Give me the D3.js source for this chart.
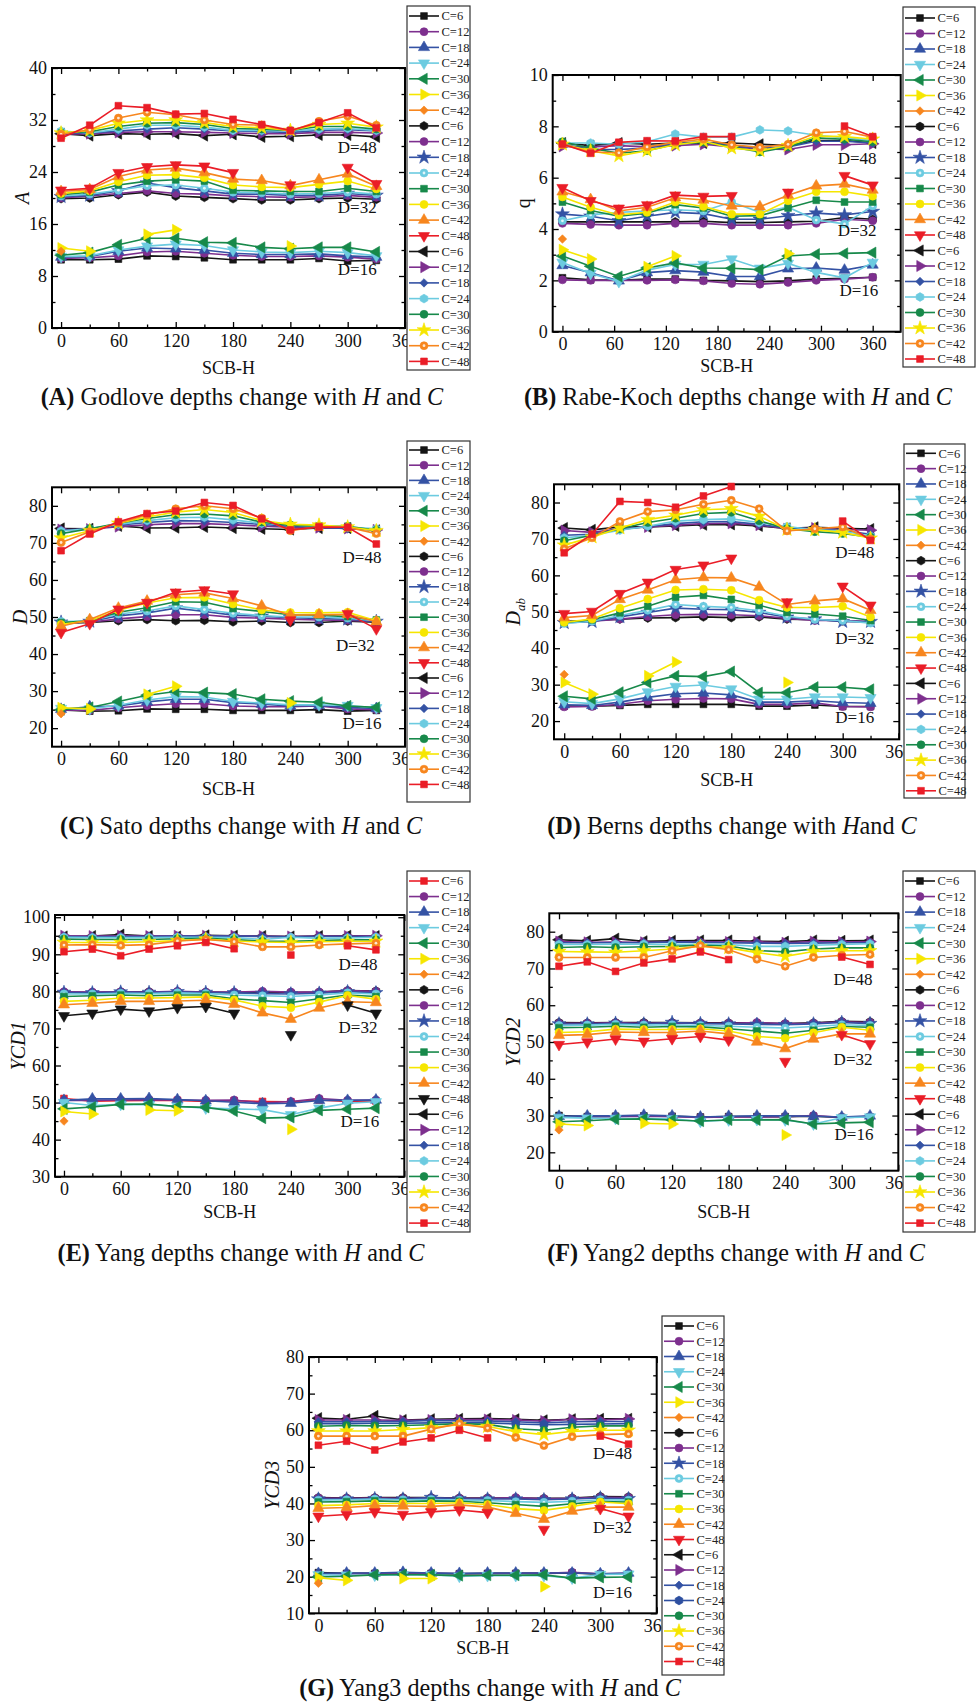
<!DOCTYPE html>
<html><head><meta charset="utf-8">
<script src="https://cdn.jsdelivr.net/npm/d3@7"></script>
<style>
body{margin:0;background:#fff}
svg{display:block}
text{font-family:"Liberation Serif","Times New Roman",serif}
</style>
</head><body>
<svg id="c" width="977" height="1705"></svg>
<script>
const _ = null;
// SCB-H values (x)
const H = [0,30,60,90,120,150,180,210,240,270,300,330];
const H_B = [0,32.7,65.5,98.2,130.9,163.6,196.4,229.1,261.8,294.5,327.3,360];
// C values per depth group
const C_D16 = [6,12,18,24,30,36,42];
const C_D32 = [6,12,18,24,30,36,42,48];
const C_D48 = [6,12,18,24,30,36,42,48];
const xTicks = [0,60,120,180,240,300,360];
const xTicksB = [0,60,120,180,240,300,360];

// (A) Godlove
const godlove16 = [
 [10.5,10.5,10.6,11.1,11.0,10.8,10.5,10.5,10.5,10.7,10.3,10.4],
 [10.7,10.8,11.1,11.7,11.8,11.5,11.2,11.0,11.0,11.1,10.9,10.6],
 [10.9,11.0,11.8,12.3,12.2,12.0,11.5,11.3,11.3,11.4,11.1,10.9],
 [11.0,11.1,12.0,12.6,12.9,12.7,12.0,11.7,11.6,11.8,11.6,11.1],
 [11.2,11.6,12.8,13.8,13.8,13.2,13.1,12.4,12.2,12.4,12.4,11.7],
 [12.3,11.8,_,14.4,15.1,_,_,_,12.6,_,_,_],
 [11.8,_,_,_,_,_,_,_,_,_,_,_]];
const godlove32 = [
 [19.9,20.0,20.5,20.9,20.3,20.1,19.9,19.7,19.7,19.9,20.0,19.8],
 [20.0,20.3,20.7,21.1,20.7,20.6,20.3,20.2,20.1,20.2,20.4,20.1],
 [20.2,20.4,21.1,22.3,21.6,21.1,20.6,20.6,20.4,20.4,20.7,20.4],
 [20.3,20.6,21.2,21.9,22.0,21.5,20.9,20.8,20.6,20.7,20.9,20.6],
 [20.5,20.9,22.0,22.6,22.8,22.6,21.2,21.1,21.0,21.0,21.5,21.0],
 [20.7,21.1,22.5,23.5,23.6,23.1,22.0,21.7,21.6,22.1,22.6,21.4],
 [21.0,21.3,23.3,24.3,24.6,23.9,22.9,22.7,21.9,22.8,23.7,21.8],
 [21.2,21.5,23.9,24.8,25.1,24.9,23.9,_,22.0,_,24.7,22.2]];
const godlove48 = [
 [29.9,29.6,29.9,29.8,29.9,29.6,29.8,29.4,29.5,29.7,29.7,29.4],
 [29.8,29.9,30.1,30.2,30.2,30.1,30.0,29.9,29.9,30.1,30.1,30.0],
 [30.0,30.0,30.3,30.6,30.8,30.6,30.3,30.2,30.1,30.4,30.5,30.3],
 [30.3,30.0,30.6,31.2,31.2,30.9,30.4,30.4,30.3,30.6,30.7,30.4],
 [30.0,30.2,31.0,31.5,31.6,31.3,30.7,30.6,30.4,31.0,31.0,30.6],
 [30.0,30.4,31.5,32.0,32.0,31.6,31.0,30.8,30.4,31.3,31.5,30.9],
 [29.8,30.5,32.3,33.2,32.8,32.0,31.3,31.2,30.3,31.8,32.6,31.2],
 [29.2,31.2,34.2,33.9,32.9,33.0,32.1,31.3,30.4,31.6,33.1,30.8]];

// (B) Rabe-Koch
const rabe16 = [
 [2.10,2.02,2.00,2.05,2.05,2.00,1.98,1.95,1.98,2.05,2.08,2.12],
 [2.02,2.00,2.00,2.00,2.02,1.98,1.88,1.85,1.92,2.00,2.05,2.12],
 [2.58,2.30,1.98,2.30,2.38,2.32,2.15,2.15,2.45,2.48,2.40,2.60],
 [2.70,2.27,1.95,2.40,2.62,2.62,2.83,2.47,2.66,2.31,2.10,2.70],
 [2.95,2.55,2.15,2.48,2.68,2.48,2.47,2.42,2.95,3.02,3.05,3.08],
 [3.19,2.83,_,2.53,2.95,_,_,_,3.04,_,_,_],
 [3.61,_,_,_,_,_,_,_,_,_,_,_]];
const rabe32 = [
 [4.28,4.28,4.28,4.28,4.28,4.30,4.25,4.25,4.28,4.30,4.45,4.38],
 [4.22,4.18,4.15,4.15,4.22,4.22,4.15,4.15,4.15,4.22,4.38,4.32],
 [4.58,4.50,4.32,4.50,4.65,4.60,4.38,4.38,4.52,4.62,4.55,4.68],
 [4.32,4.55,4.65,4.70,4.75,4.70,5.05,4.65,4.85,4.35,4.20,4.90],
 [5.05,4.72,4.50,4.62,4.95,4.82,4.50,4.52,4.82,5.12,5.05,5.05],
 [5.25,4.85,4.55,4.65,5.05,4.88,4.58,4.58,5.10,5.45,5.45,5.28],
 [5.45,5.15,4.70,4.85,5.22,5.13,4.90,4.87,5.32,5.68,5.75,5.52],
 [5.61,5.10,4.81,4.94,5.32,5.27,5.30,_,5.43,_,6.08,5.71]];
const rabe48 = [
 [7.35,7.25,7.35,7.30,7.35,7.35,7.35,7.30,7.25,7.45,7.45,7.35],
 [7.22,7.20,7.25,7.20,7.25,7.30,7.20,7.12,7.10,7.28,7.28,7.32],
 [7.30,7.10,7.10,7.15,7.35,7.40,7.25,7.15,7.20,7.42,7.42,7.35],
 [7.35,7.35,7.30,7.40,7.70,7.58,7.58,7.86,7.82,7.65,7.55,7.45],
 [7.40,7.15,6.95,7.05,7.30,7.38,7.20,7.00,7.20,7.55,7.50,7.40],
 [7.30,7.05,6.85,7.05,7.28,7.42,7.15,7.05,7.25,7.62,7.60,7.50],
 [7.28,7.00,6.97,7.20,7.38,7.50,7.28,7.18,7.30,7.75,7.80,7.58],
 [7.31,6.95,7.38,7.44,7.43,7.60,7.60,_,_,_,8.01,7.60]];

// (C) Sato
const sato16 = [
 [24.9,24.6,24.7,25.2,25.1,25.1,24.8,24.8,24.8,25.0,24.6,24.8],
 [24.9,24.8,25.5,26.1,26.6,26.6,26.0,25.8,25.8,26.0,25.2,25.0],
 [25.1,25.8,26.0,27.1,27.8,27.8,26.9,26.5,26.0,26.1,25.6,25.3],
 [25.3,25.2,26.2,27.6,28.5,28.4,27.2,26.8,26.3,26.3,26.1,25.5],
 [25.0,25.6,27.2,28.9,29.9,29.6,29.2,27.8,27.3,27.0,26.0,25.6],
 [25.5,25.2,_,29.1,31.3,_,_,_,26.8,_,_,_],
 [23.9,_,_,_,_,_,_,_,_,_,_,_]];
const sato32 = [
 [48.3,48.5,49.0,49.3,49.0,49.1,48.7,48.9,48.5,48.5,48.9,48.6],
 [48.4,48.6,49.5,50.1,50.6,50.6,49.9,49.7,49.4,49.2,49.1,48.8],
 [48.6,48.8,50.3,51.1,52.4,51.5,50.5,50.2,49.8,49.6,49.4,48.8],
 [48.8,48.9,50.8,51.6,53.0,52.0,51.0,50.4,50.0,50.0,49.7,49.0],
 [48.5,49.0,51.3,52.5,54.1,54.0,52.3,51.5,50.6,50.5,50.1,49.2],
 [48.0,49.0,51.8,53.8,55.2,55.3,53.5,51.9,51.2,51.1,51.3,49.0],
 [47.5,49.3,52.4,54.3,56.0,56.5,55.0,53.0,50.5,50.6,50.7,48.7],
 [45.8,48.2,52.1,53.9,56.7,57.3,56.2,_,49.2,_,50.9,46.8]];
const sato48 = [
 [73.9,73.8,74.6,74.0,74.1,74.3,74.0,73.8,73.6,74.0,74.0,73.4],
 [73.6,73.7,74.4,74.9,75.2,75.2,74.9,74.5,74.2,74.1,73.9,73.5],
 [73.4,73.8,74.8,75.5,76.0,75.9,75.5,75.0,74.5,74.3,73.8,73.6],
 [73.2,73.9,75.0,76.0,76.8,76.9,76.2,75.3,74.9,74.4,74.3,73.8],
 [72.5,73.8,75.3,76.6,77.6,77.8,77.3,75.6,74.8,74.5,74.5,73.4],
 [71.3,73.3,75.3,77.0,78.3,79.0,78.2,76.0,75.0,74.8,74.3,73.3],
 [70.1,73.0,75.4,77.5,79.2,80.0,79.2,76.7,73.3,74.4,74.2,72.5],
 [67.9,72.4,75.7,77.9,78.6,80.9,80.1,76.5,73.5,74.3,74.2,69.7]];

// (D) Berns
const berns16 = [
 [24.1,24.1,24.3,24.6,24.6,24.6,24.6,24.1,24.1,24.4,24.0,24.0],
 [23.9,24.0,24.6,25.6,26.0,26.2,26.1,24.6,24.6,25.0,24.0,23.9],
 [24.5,24.3,25.2,26.5,27.5,27.7,27.2,25.2,25.2,25.6,25.1,24.9],
 [25.3,24.8,26.1,28.0,29.5,29.9,28.8,26.0,26.0,26.6,26.6,26.4],
 [26.8,26.1,27.9,30.6,32.4,32.2,33.6,27.8,27.8,29.3,29.3,28.7],
 [30.6,27.4,_,32.4,36.2,_,_,_,30.6,_,_,_],
 [32.8,_,_,_,_,_,_,_,_,_,_,_]];
const berns32 = [
 [47.4,47.6,48.0,48.3,48.4,48.6,48.4,48.6,48.0,47.8,47.5,47.2],
 [47.3,47.4,48.0,48.7,49.2,49.3,49.2,48.9,48.2,47.6,47.6,47.3],
 [47.0,47.3,48.6,49.8,51.0,50.7,50.6,49.8,48.5,48.0,47.3,47.3],
 [46.8,47.4,49.0,50.4,52.0,51.5,51.2,50.3,48.8,47.9,47.6,46.9],
 [47.1,47.8,49.7,51.5,54.0,54.5,53.4,51.8,49.8,49.4,48.8,47.6],
 [47.1,48.0,51.0,53.5,56.0,56.2,55.9,53.2,51.2,51.2,51.5,48.6],
 [48.4,49.0,53.4,56.0,58.8,59.4,59.3,56.8,52.0,53.0,53.6,50.4],
 [49.5,50.1,55.0,58.1,61.6,62.8,64.7,_,52.7,_,57.0,51.8]];
const berns48 = [
 [73.0,72.5,73.3,73.3,73.6,73.9,74.0,73.6,72.9,73.2,72.9,72.7],
 [72.3,71.8,72.8,73.3,73.8,74.2,74.3,73.8,72.8,73.0,72.6,72.4],
 [71.0,71.3,72.6,73.4,74.2,74.7,74.8,74.0,73.0,72.8,72.3,71.3],
 [70.3,71.0,72.4,73.5,74.9,75.3,75.5,74.5,73.4,72.5,72.2,70.8],
 [69.5,71.0,72.8,74.5,75.7,77.0,77.3,75.0,72.8,72.0,71.5,70.5],
 [68.3,70.5,73.0,75.3,76.5,78.0,78.3,76.2,72.6,72.5,71.8,70.2],
 [67.3,70.3,74.8,77.5,78.0,79.5,80.6,78.3,72.2,72.8,73.3,70.0],
 [66.2,71.3,80.3,80.0,78.7,81.8,84.4,_,_,_,74.9,69.6]];

// (E) Yang
const yang16 = [
 [51.1,50.4,50.5,50.6,50.6,50.3,50.5,50.3,50.2,50.7,50.3,50.4],
 [50.6,50.6,50.7,50.8,50.7,50.6,50.7,49.9,50.3,51.1,50.6,50.7],
 [50.6,51.0,51.0,51.1,50.8,50.5,50.1,49.7,49.8,50.6,50.6,50.7],
 [50.0,49.2,49.5,49.4,49.0,48.5,48.3,48.1,46.7,48.5,49.8,50.2],
 [48.3,48.8,49.5,49.6,48.9,48.7,47.7,45.8,46.0,47.9,48.2,48.5],
 [47.6,46.9,_,48.0,47.8,_,_,_,42.8,_,_,_],
 [45.0,_,_,_,_,_,_,_,_,_,_,_]];
const yang32 = [
 [79.8,79.7,79.9,79.9,79.9,79.8,79.7,79.8,79.7,79.8,80.2,80.1],
 [79.9,79.8,79.9,79.8,80.0,79.8,79.8,80.0,79.8,79.8,80.2,80.0],
 [79.7,79.6,79.8,79.7,79.9,79.7,79.6,79.4,79.3,79.5,79.9,79.6],
 [79.3,79.3,79.5,79.4,79.6,79.4,79.0,78.8,78.6,79.0,79.6,79.3],
 [78.6,78.8,79.0,78.8,79.0,79.0,78.0,77.5,77.0,78.0,79.0,78.6],
 [77.3,77.6,78.2,78.2,78.3,78.5,77.7,76.0,75.6,77.1,78.9,77.9],
 [76.4,76.8,77.3,77.3,77.4,77.6,76.5,74.2,72.5,75.5,77.2,77.0],
 [73.4,74.1,75.2,74.7,75.6,75.9,74.1,_,68.3,_,76.3,74.1]];
const yang48 = [
 [94.8,94.9,95.3,94.9,94.8,95.1,95.0,94.9,94.8,94.9,95.0,94.9],
 [95.0,94.9,95.0,94.9,95.0,95.0,95.0,94.9,94.8,94.9,94.9,95.0],
 [94.8,94.7,94.8,94.8,94.9,94.9,94.9,94.8,94.7,94.8,94.8,94.8],
 [94.6,94.5,94.5,94.5,94.6,94.6,94.5,94.0,94.6,94.3,94.4,94.6],
 [94.1,94.0,94.0,94.0,94.2,94.3,94.0,93.5,93.5,93.7,93.9,93.9],
 [93.2,93.2,93.2,93.4,93.7,94.1,93.6,93.3,93.2,93.4,93.5,93.5],
 [92.5,92.6,92.4,92.6,93.6,94.0,93.4,92.0,92.0,92.5,92.8,93.0],
 [90.7,91.4,89.6,91.4,92.3,93.2,91.5,_,89.8,_,92.3,91.2]];

// (F) Yang2
const yang2_16 = [
 [30.0,29.7,29.8,29.9,29.8,29.6,29.7,29.7,29.7,29.8,29.5,29.6],
 [29.6,29.6,29.7,29.8,29.7,29.5,29.6,29.6,29.7,30.0,29.5,29.7],
 [29.8,29.9,29.9,30.1,29.9,29.6,29.8,29.9,29.9,29.8,29.6,29.9],
 [29.5,29.3,29.2,29.2,29.1,28.4,28.8,28.9,28.8,27.7,29.4,29.6],
 [28.3,28.6,29.0,29.1,28.8,28.5,28.8,28.8,28.9,27.7,28.0,28.2],
 [27.7,27.3,_,27.9,27.7,_,_,_,24.7,_,_,_],
 [26.1,_,_,_,_,_,_,_,_,_,_,_]];
const yang2_32 = [
 [55.3,55.2,55.3,55.3,55.3,55.2,55.2,55.2,55.0,55.2,55.6,55.5],
 [55.1,55.1,55.2,55.1,55.2,55.1,55.1,55.3,55.0,55.1,55.5,55.3],
 [54.9,54.9,55.1,54.9,55.3,55.0,54.9,54.8,54.7,54.9,55.3,55.0],
 [54.5,54.6,54.8,54.6,54.7,54.5,54.3,54.0,53.8,54.2,54.7,54.5],
 [53.9,54.0,54.3,54.0,54.2,54.1,53.6,53.0,52.4,53.2,54.2,54.0],
 [52.6,52.8,53.5,53.4,53.4,53.6,53.0,51.5,51.0,52.5,54.0,53.2],
 [51.8,52.0,52.7,52.6,52.6,53.0,52.2,50.0,48.2,50.8,52.2,52.2],
 [49.3,50.0,50.8,50.2,50.9,51.5,50.5,_,44.7,_,52.0,49.5]];
const yang2_48 = [
 [77.8,77.5,78.1,77.4,77.5,77.6,77.6,77.4,77.3,77.6,77.5,77.6],
 [77.3,77.1,77.2,77.1,77.2,77.3,77.2,77.2,77.0,77.3,77.2,77.3],
 [77.0,77.0,77.0,77.0,77.2,77.1,77.0,76.9,76.8,76.9,77.0,77.0],
 [76.5,76.5,76.6,76.6,76.6,76.6,76.5,76.0,76.0,76.3,76.5,76.7],
 [75.7,75.9,75.7,75.9,76.0,76.3,76.1,74.9,74.5,75.3,75.6,75.6],
 [74.6,74.5,74.4,74.8,75.3,76.0,75.6,74.3,73.3,74.6,74.8,74.8],
 [73.0,73.0,73.0,73.0,74.8,76.2,75.1,72.5,70.6,73.0,73.6,73.8],
 [70.6,71.8,69.2,71.5,72.6,74.5,72.4,_,_,_,73.1,71.1]];

// (G) Yang3
const yang3_16 = [
 [21.1,20.9,20.9,21.0,20.9,20.8,20.9,20.9,20.9,21.0,20.7,20.8],
 [20.8,20.8,20.9,21.0,20.9,20.8,20.8,20.9,20.9,21.2,20.8,20.9],
 [20.9,21.0,21.0,21.2,21.0,20.9,21.0,21.0,21.0,21.0,20.8,21.0],
 [20.5,20.4,20.4,20.5,20.5,20.1,20.3,20.3,20.3,19.6,20.6,20.7],
 [19.9,20.1,20.5,20.6,20.5,20.3,20.4,20.4,20.5,19.6,19.8,19.9],
 [19.7,19.0,_,19.5,19.5,_,_,_,17.3,_,_,_],
 [18.2,_,_,_,_,_,_,_,_,_,_,_]];
const yang3_32 = [
 [41.6,41.5,41.6,41.6,41.6,41.5,41.5,41.5,41.4,41.5,41.9,41.8],
 [41.5,41.4,41.5,41.4,41.5,41.4,41.4,41.6,41.3,41.4,41.7,41.6],
 [41.2,41.2,41.3,41.2,41.6,41.3,41.2,41.2,41.0,41.2,41.5,41.3],
 [40.9,41.0,41.2,41.0,41.1,40.9,40.8,40.5,40.3,40.6,41.0,40.9],
 [40.4,40.5,40.7,40.5,40.7,40.6,40.2,39.7,39.2,39.9,40.5,40.4],
 [39.4,39.6,40.0,40.0,40.0,40.2,39.7,38.6,38.1,39.2,40.4,39.9],
 [38.7,38.9,39.4,39.3,39.2,39.6,39.0,37.3,35.7,37.9,39.0,39.0],
 [36.5,37.0,37.7,37.0,37.7,38.2,37.5,_,32.9,_,38.6,36.5]];
const yang3_48 = [
 [63.3,63.0,63.9,62.8,63.0,63.1,63.2,63.0,62.7,63.0,63.1,63.1],
 [62.8,62.8,62.8,62.7,62.8,62.9,62.9,62.8,62.5,63.0,62.8,63.1],
 [62.3,62.3,62.4,62.4,62.7,62.6,62.5,62.3,62.0,62.3,62.4,62.4],
 [61.8,61.8,61.9,61.9,62.0,62.1,62.0,61.7,61.5,61.6,61.7,61.8],
 [61.1,61.3,61.2,61.3,61.5,61.8,61.6,60.4,60.0,60.8,61.2,61.2],
 [59.8,59.8,59.8,60.2,60.7,61.5,61.0,59.6,58.8,59.7,60.0,60.0],
 [58.4,58.4,58.4,58.4,60.3,61.8,60.6,58.0,55.8,58.2,58.8,59.0],
 [55.9,57.0,54.6,56.8,57.9,60.0,57.9,_,_,_,58.4,56.2]];

// ---------- styles ----------
const K='#151515', P='#7d2f8e', BL='#3452a4', CY='#6ccbe0', GR='#17894a', YE='#f6e600', OR='#f7861e', RD='#ea1d27', DB='#2d4fa0';
const g1Style = [['square',K],['circle',P],['triUp',BL],['triDown',CY],['triLeft',GR],['triRight',YE],['diamond',OR]];
const g2Style = [['hexagon',K],['circle',P],['star',BL],['circleDot',CY],['square',GR],['circle',YE],['triUp',OR],['triDown',RD]];
const g3Style = [['triLeft',K],['triRight',P],['diamond',BL],['hexagon',CY],['circle',GR],['star',YE],['circleDot',OR],['square',RD]];
function mod(st, idx, col){ const s = st.map(d=>d.slice()); s[idx][1]=col; return s; }

const panels = [
 {box:[52,68,405,328], xd:[-9.5,360], yd:[0,40], yt:d3.range(0,41,8), ym:d3.range(4,40,8), xv:H, xt:xTicks,
  data:[godlove16,godlove32,godlove48], st:[g1Style,g2Style,g3Style], ytitle:'A', ytx:22, xty:368,
  dlab:[[310,27.8,'D=48'],[310,18.6,'D=32'],[310,9.1,'D=16']],
  leg:{x:407,top:6,w:63,y0:16,dy:15.7,bot:370}, cap:['(A)',' Godlove depths change with ','H',' and ','C'], capxy:[242,405]},
 {box:[552.7,75,900.7,331.7], xd:[-11.3,392.5], yd:[0,10], yt:d3.range(0,11,2), ym:d3.range(1,10,2), xv:H_B, xt:xTicksB,
  data:[rabe16,rabe32,rabe48], st:[g1Style,g2Style,g3Style], ytitle:'q', yup:true, ytx:523, xty:366,
  dlab:[[342,6.77,'D=48'],[342,3.96,'D=32'],[344,1.62,'D=16']],
  leg:{x:903,top:7,w:72,y0:18,dy:15.5,bot:367}, cap:['(B)',' Rabe-Koch depths change with ','H',' and ','C'], capxy:[738,405]},
 {box:[52,487.3,405,746.7], xd:[-9.5,360], yd:[15,85], yt:d3.range(20,81,10), ym:d3.range(25,85,10), xv:H, xt:xTicks,
  data:[sato16,sato32,sato48], st:[g1Style,g2Style,g3Style], ytitle:'D', ytx:20, xty:789,
  dlab:[[315,66.2,'D=48'],[308,42.3,'D=32'],[315,21.5,'D=16']],
  leg:{x:407,top:441,w:63,y0:450,dy:15.2,bot:802}, cap:['(C)',' Sato depths change with ','H',' and ','C'], capxy:[241,834]},
 {box:[554,484.3,899.3,739.3], xd:[-11,361], yd:[15,85], yt:d3.range(20,81,10), ym:d3.range(25,85,10), xv:H, xt:xTicks,
  data:[berns16,berns32,berns48], st:[g1Style,g2Style,g3Style], ytitle:'D', ysub:'ab', ytx:513, xty:780,
  dlab:[[313,66.3,'D=48'],[313,42.9,'D=32'],[313,21.1,'D=16']],
  leg:{x:904,top:444,w:61,y0:453.3,dy:15.34,bot:798}, cap:['(D)',' Berns depths change with ','H','and ','C'], capxy:[732,834]},
 {box:[55,915,404.3,1176.7], xd:[-9.5,360], yd:[30,100.6], yt:d3.range(30,101,10), ym:d3.range(35,100,10), xv:H, xt:xTicks,
  data:[yang16,yang32,yang48], st:[mod(g1Style,0,RD),mod(g2Style,7,K),g3Style], ytitle:'YCD1', ytx:18, xty:1212,
  dlab:[[311,87.4,'D=48'],[311,70.4,'D=32'],[313,45.0,'D=16']],
  leg:{x:407,top:871,w:63,y0:881,dy:15.55,bot:1232}, cap:['(E)',' Yang depths change with ','H',' and ','C'], capxy:[241,1261]},
 {box:[549.3,913.3,898.3,1170.7], xd:[-10.3,360], yd:[15,85], yt:d3.range(20,81,10), ym:d3.range(25,85,10), xv:H, xt:xTicks,
  data:[yang2_16,yang2_32,yang2_48], st:[g1Style,g2Style,g3Style], ytitle:'YCD2', ytx:513, xty:1212,
  dlab:[[312,67.0,'D=48'],[312,45.4,'D=32'],[313,25.0,'D=16']],
  leg:{x:903,top:871,w:72,y0:881,dy:15.55,bot:1232}, cap:['(F)',' Yang2 depths change with ','H',' and ','C'], capxy:[736,1261]},
 {box:[309,1357,656.7,1613.3], xd:[-10,360], yd:[10,80], yt:d3.range(10,81,10), ym:d3.range(15,80,10), xv:H, xt:xTicks,
  data:[yang3_16,yang3_32,yang3_48], st:[g1Style,g2Style,mod(g3Style,3,DB)], ytitle:'YCD3', ytx:272, xty:1648,
  dlab:[[313,53.7,'D=48'],[313,33.5,'D=32'],[313,15.8,'D=16']],
  leg:{x:662,top:1316,w:62,y0:1326,dy:15.25,bot:1675}, cap:['(G)',' Yang3 depths change with ','H',' and ','C'], capxy:[490,1696]}
];

// ---------- symbols ----------
const hexagon = { draw(ctx, size){ const r=Math.sqrt(2*size/(3*Math.sqrt(3)));
  for(let i=0;i<6;i++){ const a=Math.PI/3*i+Math.PI/6, px=r*Math.cos(a), py=r*Math.sin(a); if(i) ctx.lineTo(px,py); else ctx.moveTo(px,py);} ctx.closePath(); } };
const SYM = {square:[d3.symbolSquare,46,0], circle:[d3.symbolCircle,50,0], circleDot:[d3.symbolCircle,50,0],
  triUp:[d3.symbolTriangle,54,0], triDown:[d3.symbolTriangle,54,180], triLeft:[d3.symbolTriangle,54,-90], triRight:[d3.symbolTriangle,54,90],
  diamond:[d3.symbolSquare,36,45], star:[d3.symbolStar,60,0], hexagon:[hexagon,50,0]};
function marker(g, type, color, cx, cy){
  const [t,s,r] = SYM[type];
  g.append('path').attr('d', d3.symbol(t, s)()).attr('transform',`translate(${cx},${cy}) rotate(${r})`)
   .attr('fill',color).attr('stroke',color).attr('stroke-width',0.6);
  if(type==='circleDot') g.append('circle').attr('cx',cx).attr('cy',cy).attr('r',1.4).attr('fill','#fff').attr('opacity',0.8);
}

const svg = d3.select('#c');
panels.forEach(p=>{
  const [L,T,R,B] = p.box;
  const x = d3.scaleLinear().domain(p.xd).range([L,R]);
  const y = d3.scaleLinear().domain(p.yd).range([B,T]);
  const g = svg.append('g');
  const xm = p.xt.slice(0,-1).map((v,i)=>(v+p.xt[i+1])/2);
  function tk(axis, tr, vals, size, labels, pad){
    const a = g.append('g').attr('transform',tr)
      .call(axis.tickValues(vals).tickSize(size).tickPadding(pad||0).tickFormat(labels? d3.format('d') : ''));
    a.select('.domain').remove();
    a.selectAll('line').attr('stroke','#000').attr('stroke-width',1.3);
    a.selectAll('text').attr('font-size',18).attr('fill','#111');
  }
  tk(d3.axisBottom(x), `translate(0,${B})`, p.xt, -6, true, 6);
  tk(d3.axisBottom(x), `translate(0,${B})`, xm, -3.5, false);
  tk(d3.axisTop(x), `translate(0,${T})`, p.xt, -6, false);
  tk(d3.axisTop(x), `translate(0,${T})`, xm, -3.5, false);
  tk(d3.axisLeft(y), `translate(${L},0)`, p.yt, -6, true, 5);
  tk(d3.axisLeft(y), `translate(${L},0)`, p.ym, -3.5, false);
  tk(d3.axisRight(y), `translate(${R},0)`, p.yt, -6, false);
  tk(d3.axisRight(y), `translate(${R},0)`, p.ym, -3.5, false);
  g.append('rect').attr('x',L).attr('y',T).attr('width',R-L).attr('height',B-T)
   .attr('fill','none').attr('stroke','#000').attr('stroke-width',2);

  // series
  const line = d3.line().defined(d=>d[1]!=null).x(d=>x(d[0])).y(d=>y(d[1]));
  p.data.forEach((grp,gi)=>{
    grp.forEach((vals,si)=>{
      const [type,col] = p.st[gi][si];
      const pts = vals.map((v,j)=>[p.xv[j],v]);
      g.append('path').attr('d',line(pts)).attr('fill','none').attr('stroke',col).attr('stroke-width',1.6);
      pts.filter(d=>d[1]!=null).forEach(d=>marker(g,type,col,x(d[0]),y(d[1])));
    });
  });
  // depth labels
  p.dlab.forEach(d=>g.append('text').attr('x',x(d[0])).attr('y',y(d[1])).attr('dy','0.35em')
    .attr('text-anchor','middle').attr('font-size',17).attr('fill','#111').text(d[2]));
  // axis titles
  g.append('text').attr('x',(L+R)/2).attr('y',p.xty).attr('dy','0.35em').attr('text-anchor','middle')
   .attr('font-size',18).attr('fill','#111').text('SCB-H');
  const yt = g.append('text').attr('transform',`translate(${p.ytx},${(T+B)/2}) rotate(-90)`).attr('dy','0.35em')
   .attr('text-anchor','middle').attr('font-size',20).attr('fill','#111').attr('font-style',p.yup?'normal':'italic').text(p.ytitle);
  if(p.ysub) yt.append('tspan').attr('font-size',13).attr('dy','0.35em').text(p.ysub);

  // legend
  const lg = p.leg;
  const lgG = svg.append('g');
  lgG.append('rect').attr('x',lg.x).attr('y',lg.top).attr('width',lg.w).attr('height',lg.bot-lg.top)
    .attr('fill','#fff').attr('stroke','#333').attr('stroke-width',1.2);
  const entries = [];
  [C_D16,C_D32,C_D48].forEach((cs,gi)=>cs.forEach((c,si)=>entries.push([c,p.st[gi][si]])));
  entries.forEach((e,i)=>{
    const yy = lg.y0 + i*lg.dy;
    lgG.append('line').attr('x1',lg.x+2).attr('x2',lg.x+32).attr('y1',yy).attr('y2',yy).attr('stroke',e[1][1]).attr('stroke-width',1.6);
    marker(lgG,e[1][0],e[1][1],lg.x+17,yy);
    lgG.append('text').attr('x',lg.x+34.5).attr('y',yy).attr('dy','0.35em').attr('font-size',12.5).attr('fill','#222').text('C='+e[0]);
  });

  // caption
  const cp = svg.append('text').attr('x',p.capxy[0]).attr('y',p.capxy[1]).attr('text-anchor','middle').attr('font-size',24.2).attr('fill','#111');
  p.cap.forEach((t,i)=>{
    const ts = cp.append('tspan').text(t);
    if(i===0) ts.attr('font-weight','bold');
    if(i===2||i===4) ts.attr('font-style','italic');
  });
});
</script>
</body></html>
